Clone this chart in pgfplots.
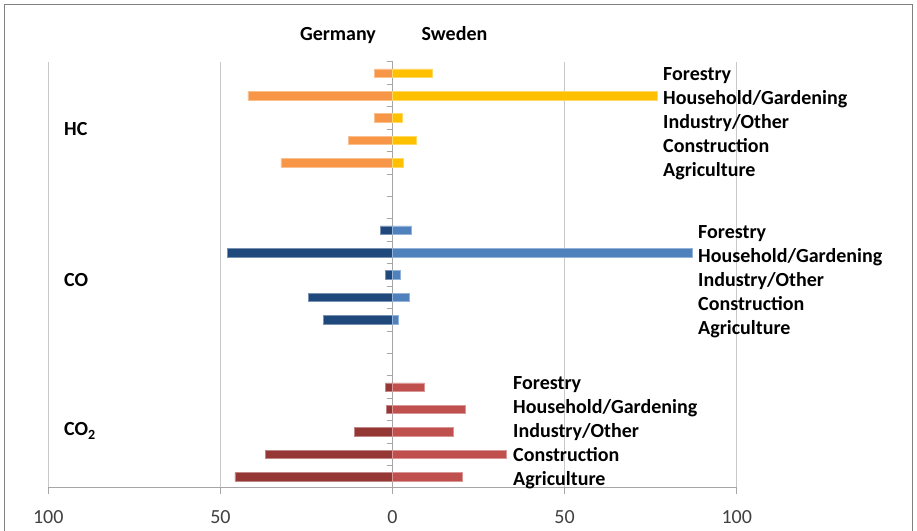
\documentclass[border=0pt]{standalone}
\usepackage{pgfplots}
\pgfplotsset{compat=1.18}
\usepackage{fontspec}
\setmainfont{Carlito}

\definecolor{hcde}{HTML}{F79646}
\definecolor{hcse}{HTML}{FFC000}
\definecolor{code}{HTML}{1F497D}
\definecolor{cose}{HTML}{4F81BD}
\definecolor{ctde}{HTML}{953735}
\definecolor{ctse}{HTML}{C0504D}
\definecolor{gridgray}{HTML}{C8C8C8}
\definecolor{axisgray}{HTML}{A6A6A6}
\definecolor{framegray}{HTML}{808080}
\definecolor{ticktext}{HTML}{404040}

\newcommand{\lab}{\bfseries\fontsize{20bp}{24bp}\selectfont}

\begin{document}
\begin{tikzpicture}
\begin{axis}[
    scale only axis, width=688.4bp, height=426bp,
    xmin=-100, xmax=100, ymin=0.5, ymax=19.5,
    axis x line=bottom, axis y line=center,
    axis line style={-, draw=axisgray, line width=1bp},
    xtick={-100,-50,0,50,100},
    xticklabels={100,50,0,50,100},
    ytick={0.5,1.5,...,19.5}, yticklabels={},
    tick align=outside, major tick length=6bp,
    tick style={axisgray, line width=1bp},
    xmajorgrids, grid style={gridgray, line width=1bp},
    /pgf/number format/assume math mode=true,
    xticklabel style={font=\fontsize{20bp}{24bp}\selectfont, text=ticktext, yshift=-13bp},
    clip=false,
    bars/.style={xbar, bar width=8.5bp, bar shift=0pt, fill=#1, draw=#1!60!white, line width=0.6bp},
]
% y slots: 19..15 HC, 12..8 CO, 5..1 CO2 (Forestry on top)
\addplot[bars=hcde] coordinates {
    (-5.2,19) (-42,18) (-5.2,17) (-12.8,16) (-32.4,15)};
\addplot[bars=hcse] coordinates {
    (11.6,19) (77,18) (2.9,17) (6.8,16) (3.1,15)};
\addplot[bars=code] coordinates {
    (-3.5,12) (-48,11) (-2,10) (-24.4,9) (-20,8)};
\addplot[bars=cose] coordinates {
    (5.5,12) (87,11) (2.4,10) (4.9,9) (1.6,8)};
\addplot[bars=ctde] coordinates {
    (-2,5) (-1.7,4) (-11,3) (-37,2) (-45.8,1)};
\addplot[bars=ctse] coordinates {
    (9.2,5) (21.2,4) (17.8,3) (33,2) (20.3,1)};
\coordinate (O) at (rel axis cs:0,0);
\end{axis}

\begin{scope}[shift={(O)}]
\begin{scope}[shift={(-48.3bp,-43bp)}, x=1bp, y=1bp]
\draw[framegray, line width=1.5bp] (4.5,-10) -- (4.5,526.5) -- (912.5,526.5) -- (912.5,-10);

% headers
\node[anchor=base, font=\lab] at (338,490) {Germany};
\node[anchor=base, font=\lab] at (454.5,490) {Sweden};

% pollutant labels
\node[anchor=base west, font=\lab, inner sep=0pt] at (64,395) {HC};
\node[anchor=base west, font=\lab, inner sep=0pt] at (64,244) {CO};
\node[anchor=base west, font=\lab, inner sep=0pt] at (64,95) {CO\textsubscript{2}};

% sector labels
\foreach \name [count=\i from 0] in {Forestry,Household/Gardening,Industry/Other,Construction,Agriculture} {
    \node[anchor=base west, font=\lab, inner sep=0pt] at (663,531-81-24*\i) {\name};
    \node[anchor=base west, font=\lab, inner sep=0pt] at (698,531-238.3-24*\i) {\name};
    \node[anchor=base west, font=\lab, inner sep=0pt] at (513,531-390-24*\i) {\name};
}
\end{scope}
\end{scope}

\pgfresetboundingbox
\begin{scope}[shift={(O)}]
\begin{scope}[shift={(-48.3bp,-43bp)}, x=1bp, y=1bp]
\useasboundingbox (0,0) rectangle (917,531);
\end{scope}
\end{scope}
\end{tikzpicture}
\end{document}
